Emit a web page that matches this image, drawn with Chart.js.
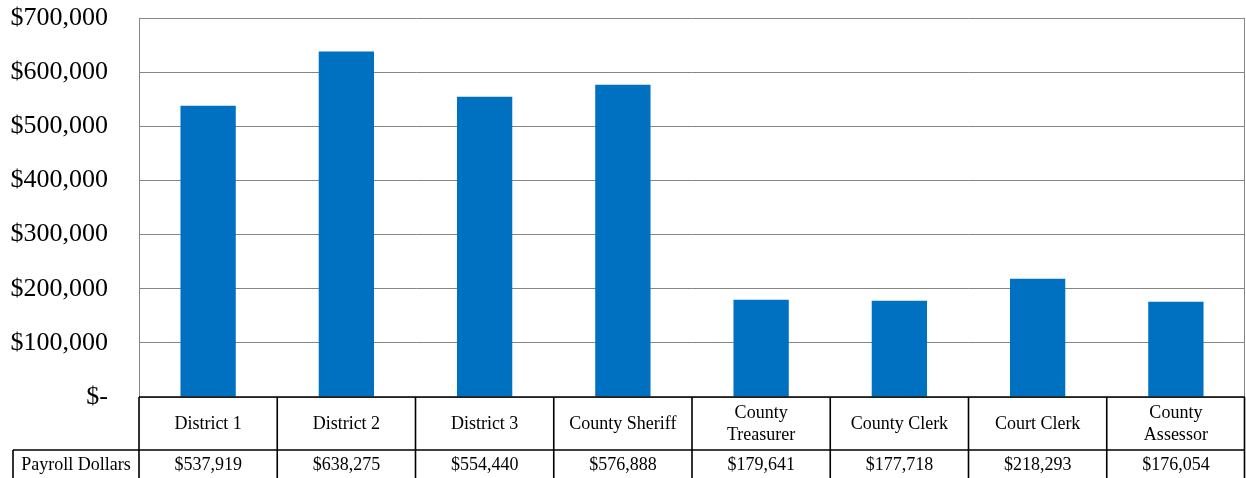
<!DOCTYPE html>
<html>
<head>
<meta charset="utf-8">
<script src="https://cdn.jsdelivr.net/npm/chart.js@4"></script>
<style>
  html, body { margin: 0; padding: 0; background: #ffffff; }
  #wrap { width: 1246px; height: 478px; position: relative; }
</style>
</head>
<body>
<div id="wrap"><canvas id="c"></canvas></div>
<script>
const categories = ['District 1', 'District 2', 'District 3', 'County Sheriff', ['County', 'Treasurer'], 'County Clerk', 'Court Clerk', ['County', 'Assessor']];
const seriesName = 'Payroll Dollars';
const payroll = [537919, 638275, 554440, 576888, 179641, 177718, 218293, 176054];
const yTicks = [0, 100000, 200000, 300000, 400000, 500000, 600000, 700000];

const FONT = '"Liberation Serif", "Times New Roman", serif';
const fmt = v => '$' + v.toLocaleString('en-US');

const tablePlugin = {
  id: 'dataTable',
  afterDraw(chart) {
    const ctx = chart.ctx;
    const area = chart.chartArea;
    const x = chart.scales.x;
    const n = categories.length;
    const left = area.left, right = area.right;
    const top = area.bottom;
    const row1Bottom = top + 53;
    const row2Bottom = chart.height + 2;
    const headerLeft = 13;
    const half = (x.getPixelForValue(1) - x.getPixelForValue(0)) / 2;
    ctx.save();
    // plot area right border
    ctx.strokeStyle = '#868686';
    ctx.lineWidth = 1;
    ctx.beginPath();
    ctx.moveTo(right - 0.5, area.top);
    ctx.lineTo(right - 0.5, area.bottom);
    ctx.stroke();

    ctx.strokeStyle = '#000000';
    ctx.lineWidth = 1.6;
    ctx.beginPath();
    ctx.moveTo(left, top); ctx.lineTo(right, top);
    ctx.moveTo(headerLeft, row1Bottom); ctx.lineTo(right, row1Bottom);
    ctx.moveTo(headerLeft, row2Bottom); ctx.lineTo(right, row2Bottom);
    ctx.moveTo(headerLeft, row1Bottom); ctx.lineTo(headerLeft, row2Bottom);
    for (let i = 0; i <= n; i++) {
      const px = i === n ? right - 0.5 : x.getPixelForValue(i) - half;
      ctx.moveTo(px, top); ctx.lineTo(px, row2Bottom);
    }
    ctx.stroke();

    ctx.fillStyle = '#000000';
    ctx.font = '18px ' + FONT;
    ctx.textAlign = 'center';
    ctx.textBaseline = 'middle';
    const r1c = (top + row1Bottom) / 2 + 1;
    const r2c = (row1Bottom + row2Bottom) / 2;
    for (let i = 0; i < n; i++) {
      const cx = x.getPixelForValue(i);
      const lab = categories[i];
      if (Array.isArray(lab)) {
        const lh = 22;
        lab.forEach((t, j) => ctx.fillText(t, cx, r1c + (j - (lab.length - 1) / 2) * lh));
      } else {
        ctx.fillText(lab, cx, r1c);
      }
      ctx.fillText(fmt(payroll[i]), cx, r2c);
    }
    ctx.fillText(seriesName, (headerLeft + left) / 2, r2c);
    ctx.restore();
  }
};

new Chart(document.getElementById('c'), {
  type: 'bar',
  data: {
    labels: categories,
    datasets: [{
      label: seriesName,
      data: payroll,
      backgroundColor: '#0070C0',
      borderWidth: 0,
      categoryPercentage: 1,
      barPercentage: 0.4
    }]
  },
  options: {
    responsive: true,
    maintainAspectRatio: false,
    animation: false,
    layout: { padding: { top: 18, right: 1, bottom: 81, left: 0 } },
    plugins: { legend: { display: false }, tooltip: { enabled: false } },
    scales: {
      x: { display: false },
      y: {
        min: 0, max: 700000,
        afterFit(s) { s.width = 139; s.paddingTop = 0; s.paddingBottom = 0; },
        afterBuildTicks(s) { s.ticks = yTicks.map(v => ({ value: v })); },
        grid: { color: '#868686', lineWidth: 1, drawTicks: false },
        border: { color: '#868686', width: 1 },
        ticks: {
          padding: 31,
          color: '#000000',
          font: { family: FONT, size: 26 },
          callback: v => v === 0 ? '$-' : fmt(v)
        }
      }
    }
  },
  plugins: [tablePlugin]
});
</script>
</body>
</html>
